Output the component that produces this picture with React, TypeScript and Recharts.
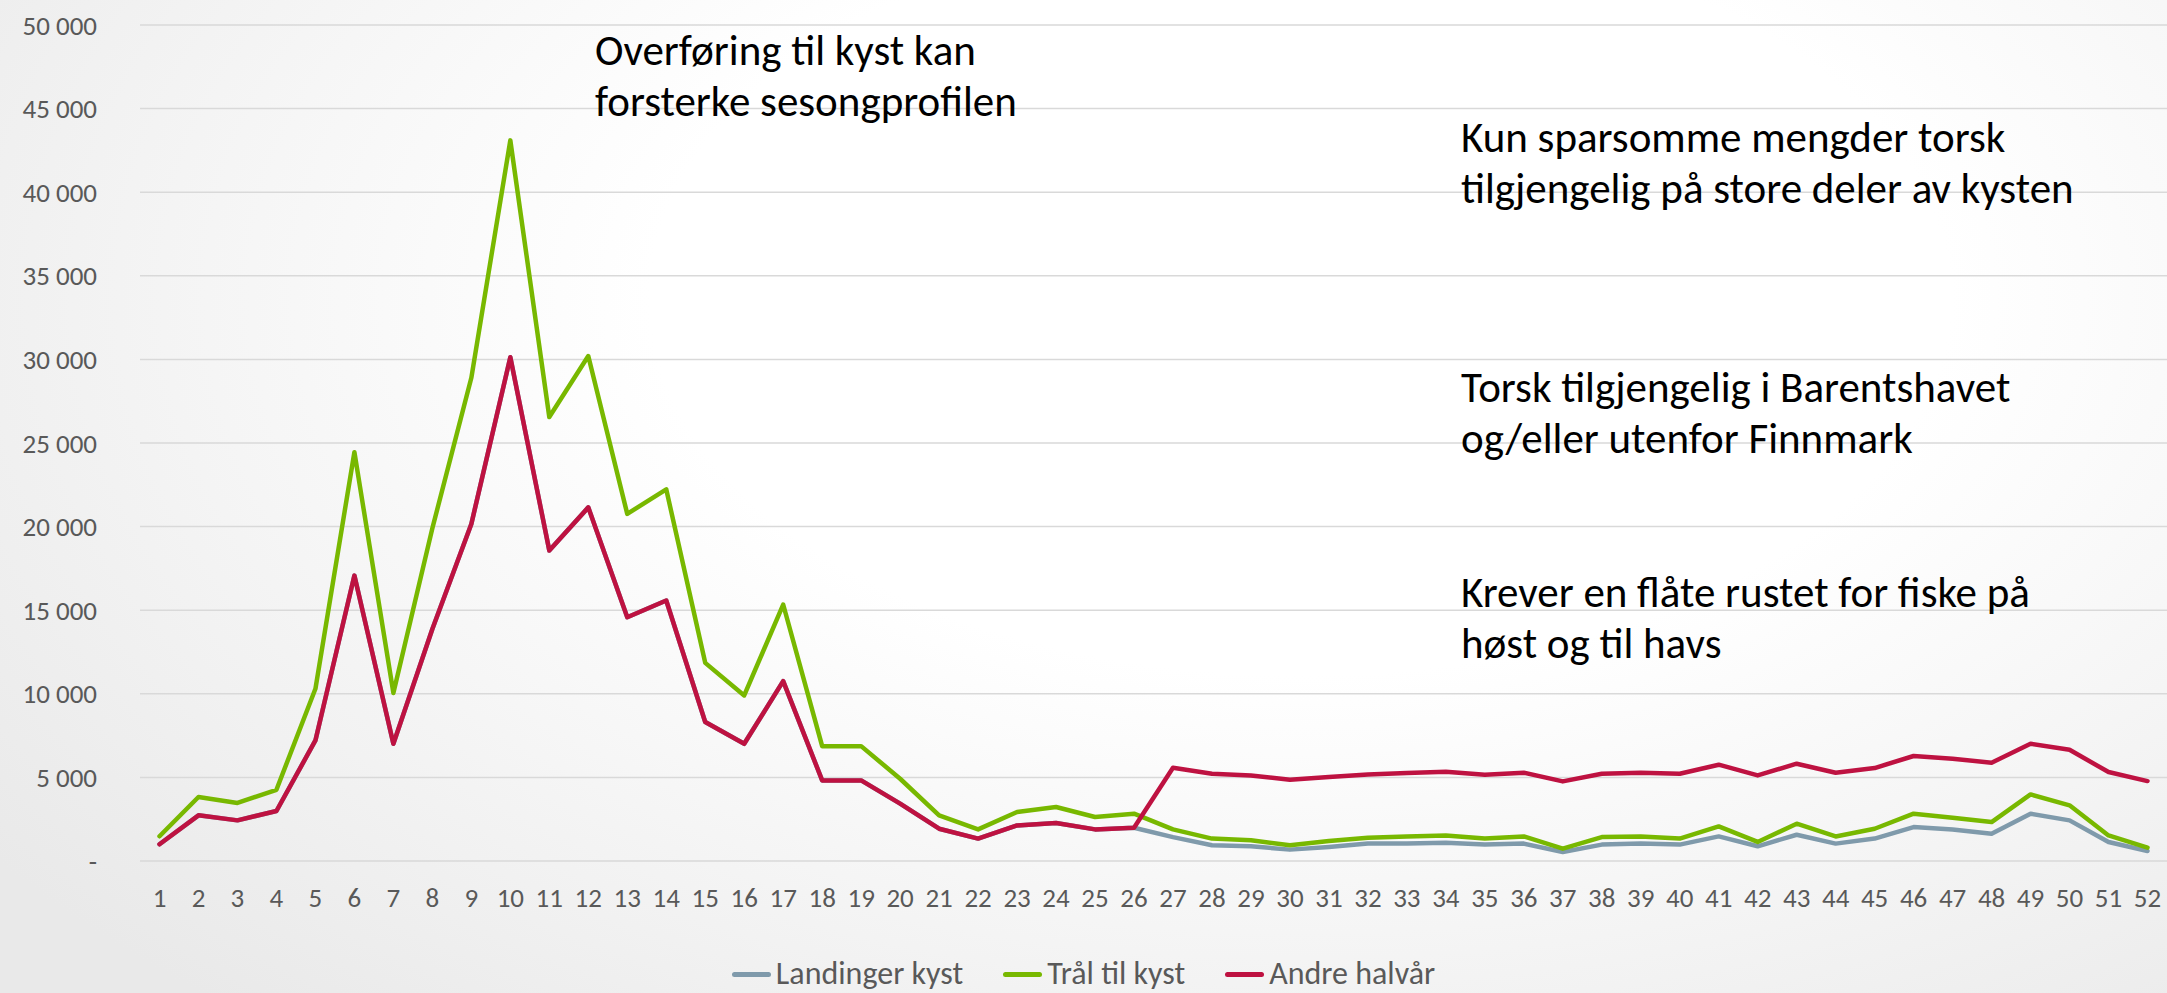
import React from 'react';
import { LineChart, Line, XAxis, YAxis, CartesianGrid, Legend } from 'recharts';

const WEEKS = [
  '1', '2', '3', '4', '5', '6', '7', '8', '9', '10', '11', '12', '13',
  '14', '15', '16', '17', '18', '19', '20', '21', '22', '23', '24', '25', '26',
  '27', '28', '29', '30', '31', '32', '33', '34', '35', '36', '37', '38', '39',
  '40', '41', '42', '43', '44', '45', '46', '47', '48', '49', '50', '51', '52',
];

const LANDINGER_KYST = [
  1000, 2730, 2430, 2990, 7210, 17070, 7010, 13880, 20160, 30130,
  18570, 21150, 14580, 15580, 8310, 7010, 10760, 4820, 4820, 3430,
  1930, 1340, 2130, 2270, 1890, 1990, 1430, 940, 880, 680,
  840, 1040, 1040, 1090, 980, 1040, 540, 980, 1040, 980,
  1470, 880, 1570, 1040, 1340, 2030, 1890, 1630, 2830, 2430,
  1140, 600,
];

const TRAL_TIL_KYST = [
  1480, 3830, 3470, 4260, 10300, 24450, 10050, 19900, 28900, 43100,
  26550, 30200, 20760, 22230, 11850, 9900, 15340, 6870, 6870, 4920,
  2730, 1890, 2930, 3230, 2630, 2830, 1890, 1340, 1240, 940,
  1200, 1390, 1470, 1530, 1340, 1470, 740, 1430, 1470, 1340,
  2070, 1140, 2230, 1470, 1930, 2830, 2590, 2330, 3980, 3330,
  1530, 800,
];

const ANDRE_HALVAR = [
  1000, 2730, 2430, 2990, 7210, 17070, 7010, 13880, 20160, 30130,
  18570, 21150, 14580, 15580, 8310, 7010, 10760, 4820, 4820, 3430,
  1930, 1340, 2130, 2270, 1890, 1990, 5580, 5220, 5120, 4860,
  5020, 5180, 5260, 5340, 5160, 5280, 4760, 5220, 5280, 5220,
  5760, 5120, 5820, 5280, 5560, 6280, 6120, 5880, 7010, 6650,
  5320, 4780,
];

const Y_TICKS = [0, 5000, 10000, 15000, 20000, 25000, 30000, 35000, 40000, 45000, 50000];

const SERIES = [
  { key: 'kyst', label: 'Landinger kyst', color: '#7f9aab' },
  { key: 'tral', label: 'Trål til kyst', color: '#78b800' },
  { key: 'andre', label: 'Andre halvår', color: '#be1241' },
];

const NOTES = [
  { x: 595, y: 65, lines: ['Overføring til kyst kan', 'forsterke sesongprofilen'] },
  { x: 1461, y: 152, lines: ['Kun sparsomme mengder torsk', 'tilgjengelig på store deler av kysten'] },
  { x: 1461, y: 402, lines: ['Torsk tilgjengelig i Barentshavet', 'og/eller utenfor Finnmark'] },
  { x: 1461, y: 607, lines: ['Krever en flåte rustet for fiske på', 'høst og til havs'] },
];

const data = WEEKS.map((w, i) => ({
  week: w,
  kyst: LANDINGER_KYST[i],
  tral: TRAL_TIL_KYST[i],
  andre: ANDRE_HALVAR[i],
}));

const FONT = "Carlito, Calibri, Lato, sans-serif";
const W = 2167;
const H = 993;

// excel style: space as thousands sep, dash for zero
const fmt = (v: number) => (v === 0 ? '-' : v.toLocaleString('en-US').replace(/,/g, ' '));

function LegendBox() {
  return (
    <div style={{ display: 'flex', justifyContent: 'center', gap: 40, fontFamily: FONT, fontSize: 32, lineHeight: '32px', color: '#595959' }}>
      {SERIES.map(s => (
        <div key={s.key} style={{ display: 'flex', alignItems: 'center' }}>
          <span style={{ width: 39, height: 5, borderRadius: 3, background: s.color, marginRight: 5, display: 'inline-block' }} />
          <span>{s.label}</span>
        </div>
      ))}
    </div>
  );
}

export default function App() {
  return (
    <div style={{
      position: 'absolute', left: 0, top: 0, width: W, height: H, overflow: 'hidden',
      background: 'radial-gradient(ellipse 75% 95% at 60% 30%, #ffffff 40%, #e9e9e9 100%)',
    }}>
      <LineChart width={W} height={H} data={data} margin={{ top: 25, right: 0, bottom: 72, left: 0 }}>
        <CartesianGrid vertical={false} stroke="#d9d9d9" strokeWidth={1.5} />
        <XAxis dataKey="week" axisLine={false} tickLine={false} tickSize={0} tickMargin={27}
          padding={{ left: 19.5, right: 19.5 }} interval={0} height={60}
          tick={{ fontSize: 27, fill: '#595959', fontFamily: FONT }} />
        <YAxis width={140} domain={[0, 50000]} ticks={Y_TICKS} axisLine={false} tickLine={false}
          tickSize={0} tickMargin={43} tickFormatter={fmt}
          tick={{ fontSize: 27, fill: '#595959', fontFamily: FONT }} />
        {SERIES.map(s => (
          <Line key={s.key} dataKey={s.key} name={s.label} stroke={s.color} strokeWidth={4.5}
            dot={false} type="linear" strokeLinejoin="round" strokeLinecap="round" isAnimationActive={false} />
        ))}
        <Legend layout="horizontal" align="center" verticalAlign="middle" content={() => <LegendBox />}
          wrapperStyle={{ top: 958, left: 0, width: W }} />
      </LineChart>
      <svg width={W} height={H} style={{ position: 'absolute', left: 0, top: 0, pointerEvents: 'none' }}>
        {NOTES.map((n, i) => (
          <text key={i} x={n.x} y={n.y} fontFamily={FONT} fontSize={43} fill="#000">
            {n.lines.map((l, j) => (
              <tspan key={j} x={n.x} y={n.y + j * 50.5}>{l}</tspan>
            ))}
          </text>
        ))}
      </svg>
    </div>
  );
}
